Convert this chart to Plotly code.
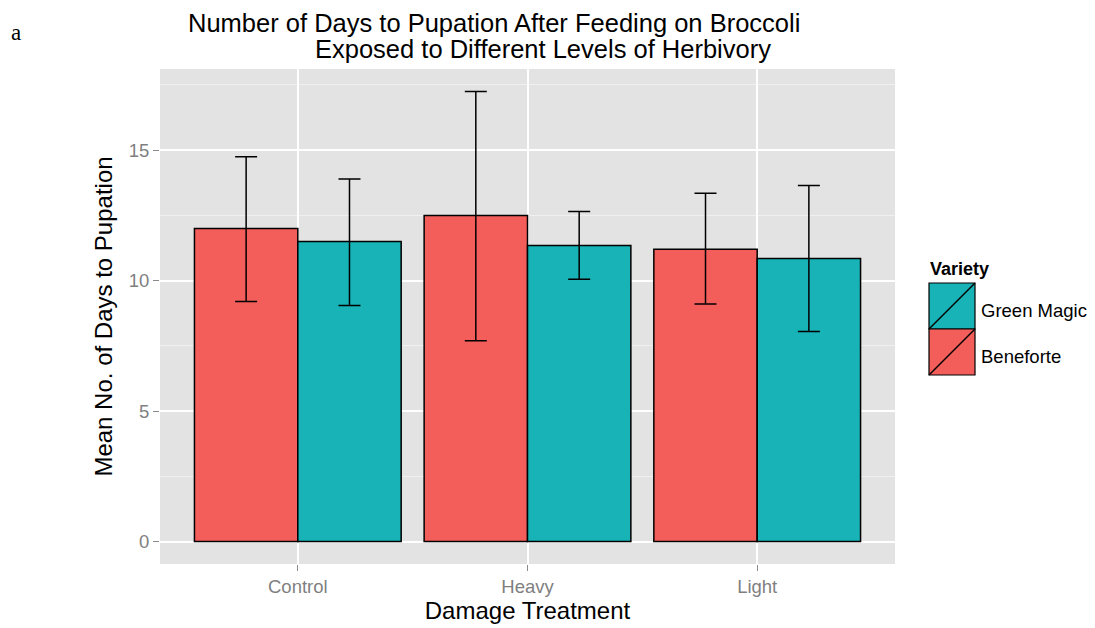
import plotly.graph_objects as go

categories = ["Control", "Heavy", "Light"]
varieties = ["Beneforte", "Green Magic"]
beneforte_mean = [12.0, 12.5, 11.2]
beneforte_upper = [14.75, 17.25, 13.35]
beneforte_lower = [9.2, 7.7, 9.1]
green_mean = [11.5, 11.35, 10.85]
green_upper = [13.9, 12.65, 13.65]
green_lower = [9.05, 10.05, 8.05]
colors = {"Beneforte": "#F35E5A", "Green Magic": "#17B3B6"}

OFF = 8  # page body margin
W, H = 1095 - OFF, 628 - OFF
L, R, T, B = 152, 200, 61, 64

def px(x):
    return (x - OFF - L) / (W - L - R)

def py(y):
    return (H - B - (y - OFF)) / (H - T - B)

fig = go.Figure()
series = {
    "Beneforte": (beneforte_mean, beneforte_upper, beneforte_lower),
    "Green Magic": (green_mean, green_upper, green_lower),
}
for name in varieties:
    m, u, lo = series[name]
    fig.add_trace(go.Bar(
        x=categories, y=m, name=name,
        marker=dict(color=colors[name], line=dict(color="black", width=1.5)),
        error_y=dict(type="data", symmetric=False,
                     array=[a - b for a, b in zip(u, m)],
                     arrayminus=[b - c for b, c in zip(m, lo)],
                     color="black", thickness=1.5, width=11),
        showlegend=False,
    ))

ymax = max(beneforte_upper + green_upper)
pad = 0.05 * ymax

fig.update_layout(
    width=W, height=H,
    margin=dict(l=L, r=R, t=T, b=B, autoexpand=False),
    paper_bgcolor="white", plot_bgcolor="#E3E3E3",
    barmode="group", bargap=0.1, bargroupgap=0,
    font=dict(family="Liberation Sans, Arial, sans-serif", color="black"),
    xaxis=dict(
        type="category", range=[-0.6, 2.6],
        showgrid=True, gridcolor="white", gridwidth=1.5,
        ticks="outside", ticklen=6, tickcolor="#8a8a8a", tickwidth=1,
        tickfont=dict(size=18.5, color="#7f7f7f"),
        title=dict(text="Damage Treatment", font=dict(size=24), standoff=2),
        zeroline=False, showline=False,
    ),
    yaxis=dict(
        range=[-pad, ymax + pad],
        tickvals=[0, 5, 10, 15],
        showgrid=True, gridcolor="white", gridwidth=1.5,
        minor=dict(tickvals=[2.5, 7.5, 12.5, 17.5], showgrid=True,
                   gridcolor="#F0F0F0", gridwidth=0.8, ticks=""),
        ticks="outside", ticklen=6, tickcolor="#8a8a8a", tickwidth=1,
        tickfont=dict(size=18.5, color="#7f7f7f"),
        title=dict(text="Mean No. of Days to Pupation", font=dict(size=24), standoff=9),
        zeroline=False, showline=False,
    ),
)

annotations = [
    dict(text="Number of Days to Pupation After Feeding on Broccoli",
         x=px(188), y=py(23), xanchor="left", yanchor="middle",
         font=dict(size=25.5), borderpad=0, borderwidth=0),
    dict(text="Exposed to Different Levels of Herbivory",
         x=px(315), y=py(48.5), xanchor="left", yanchor="middle",
         font=dict(size=25.5), borderpad=0, borderwidth=0),
    dict(text="a", x=px(9), y=py(33), xanchor="left", yanchor="middle",
         font=dict(size=23, family="Liberation Serif, Times New Roman, serif")),
    dict(text="<b>Variety</b>", x=px(928), y=py(269), xanchor="left", yanchor="middle",
         font=dict(size=18)),
]
shapes = []
key_top = 283
key_h = 46
legend_order = ["Green Magic", "Beneforte"]
for i, name in enumerate(legend_order):
    y0 = key_top + i * key_h
    y1 = y0 + key_h
    shapes.append(dict(type="rect", xref="paper", yref="paper",
                       x0=px(929), x1=px(975), y0=py(y1), y1=py(y0),
                       fillcolor=colors[name], line=dict(color="black", width=1.2)))
    shapes.append(dict(type="line", xref="paper", yref="paper",
                       x0=px(929), x1=px(975), y0=py(y1), y1=py(y0),
                       line=dict(color="black", width=1.5)))
    annotations.append(dict(text=name, x=px(979), y=py((y0 + y1) / 2 + 4),
                            xanchor="left", yanchor="middle", font=dict(size=18.5)))
for a in annotations:
    a.update(xref="paper", yref="paper", showarrow=False)
fig.update_layout(annotations=annotations, shapes=shapes)

fig.write_html("out.html")
